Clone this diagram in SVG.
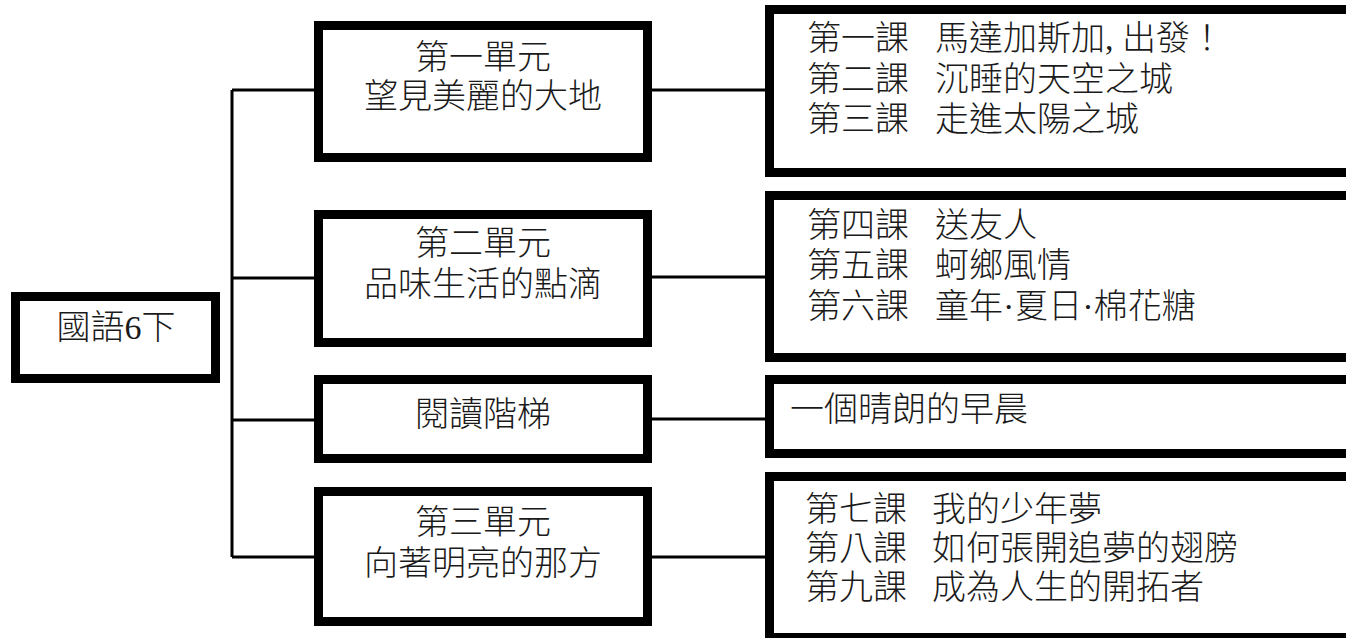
<svg xmlns="http://www.w3.org/2000/svg" width="1346" height="638" viewBox="0 0 1346 638">
<style>
.box{fill:#fff;stroke:#000;stroke-width:9}
.ln{fill:none;stroke:#000;stroke-width:3}
text{font-family:"Liberation Serif","Noto Sans CJK TC",serif;font-size:34px;fill:#1a1a1a;font-weight:300}
.c{text-anchor:middle}
</style>
<rect width="1346" height="638" fill="#fff"/>
<g id="connectors">
<path class="ln" d="M232,90 V557 M232,90 H314 M232,278 H314 M232,420 H314 M232,557 H314"/>
<path class="ln" d="M652,90 H766 M652,277 H766 M652,419 H766 M652,557 H766"/>
</g>
<g id="root">
<rect class="box" x="15.5" y="296.5" width="200" height="82"/>
<text class="c" x="116" y="339">國語6下</text>
</g>
<g id="unit1">
<rect class="box" x="318.5" y="25.5" width="329" height="132"/>
<text class="c" x="483" y="69">第一單元</text>
<text class="c" x="483" y="108">望見美麗的大地</text>
</g>
<g id="unit2">
<rect class="box" x="318.5" y="214.5" width="329" height="128"/>
<text class="c" x="483" y="255">第二單元</text>
<text class="c" x="483" y="296">品味生活的點滴</text>
</g>
<g id="unit-reading">
<rect class="box" x="318.5" y="379.5" width="329" height="79"/>
<text class="c" x="483" y="426">閱讀階梯</text>
</g>
<g id="unit3">
<rect class="box" x="318.5" y="491.5" width="329" height="130"/>
<text class="c" x="483" y="534">第三單元</text>
<text class="c" x="483" y="575">向著明亮的那方</text>
</g>
<g id="lessons1">
<rect class="box" x="769.5" y="9.5" width="600" height="163"/>
<text x="807" y="50">第一課</text><text x="935" y="50">馬達加斯加, 出發！</text>
<text x="807" y="91">第二課</text><text x="935" y="91">沉睡的天空之城</text>
<text x="807" y="131">第三課</text><text x="935" y="131">走進太陽之城</text>
</g>
<g id="lessons2">
<rect class="box" x="769.5" y="195.5" width="600" height="162"/>
<text x="807" y="237">第四課</text><text x="935" y="237">送友人</text>
<text x="807" y="277">第五課</text><text x="935" y="277">蚵鄉風情</text>
<text x="807" y="318">第六課</text><text x="935" y="318">童年·夏日·棉花糖</text>
</g>
<g id="reading">
<rect class="box" x="769.5" y="379.5" width="600" height="74"/>
<text x="790" y="421">一個晴朗的早晨</text>
</g>
<g id="lessons3">
<rect class="box" x="769.5" y="476.5" width="600" height="161"/>
<text x="805" y="521">第七課</text><text x="932" y="521">我的少年夢</text>
<text x="805" y="560">第八課</text><text x="932" y="560">如何張開追夢的翅膀</text>
<text x="805" y="599">第九課</text><text x="932" y="599">成為人生的開拓者</text>
</g>
</svg>
